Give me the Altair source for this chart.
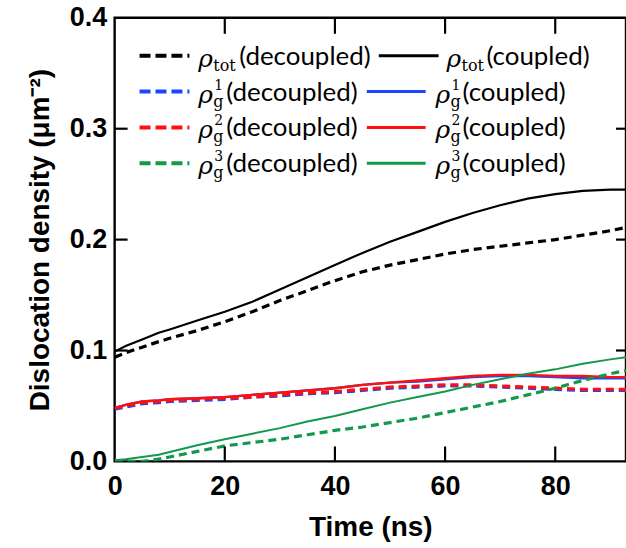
import altair as alt
import pandas as pd

# ---- data ----
time_ns = [0, 2, 5, 8, 10, 15, 20, 25, 30, 35, 40, 45, 50, 55, 60, 65, 70, 75, 80, 85, 90, 92.85]

tot_decoupled = [0.094, 0.098, 0.103, 0.108, 0.111, 0.118, 0.126, 0.135, 0.145, 0.154, 0.163, 0.171, 0.177, 0.182, 0.187, 0.191, 0.194, 0.197, 0.200, 0.204, 0.208, 0.211]
tot_coupled = [0.099, 0.104, 0.110, 0.116, 0.119, 0.127, 0.135, 0.144, 0.155, 0.166, 0.177, 0.188, 0.198, 0.207, 0.216, 0.224, 0.231, 0.237, 0.241, 0.244, 0.245, 0.245]
g1_decoupled = [0.047, 0.049, 0.052, 0.053, 0.054, 0.055, 0.056, 0.058, 0.059, 0.061, 0.062, 0.064, 0.066, 0.067, 0.068, 0.068, 0.067, 0.066, 0.065, 0.064, 0.064, 0.064]
g1_coupled = [0.048, 0.051, 0.054, 0.055, 0.056, 0.057, 0.058, 0.060, 0.062, 0.064, 0.066, 0.069, 0.071, 0.072, 0.074, 0.076, 0.077, 0.077, 0.076, 0.075, 0.075, 0.075]
g2_decoupled = [0.048, 0.050, 0.053, 0.054, 0.055, 0.056, 0.057, 0.058, 0.060, 0.062, 0.063, 0.065, 0.067, 0.068, 0.069, 0.069, 0.068, 0.067, 0.066, 0.065, 0.065, 0.065]
g2_coupled = [0.048, 0.051, 0.054, 0.055, 0.056, 0.057, 0.058, 0.060, 0.062, 0.064, 0.066, 0.069, 0.071, 0.073, 0.075, 0.077, 0.078, 0.078, 0.077, 0.077, 0.076, 0.076]
g3_decoupled = [0.000, 0.000, 0.000, 0.002, 0.004, 0.009, 0.014, 0.017, 0.020, 0.024, 0.028, 0.031, 0.035, 0.039, 0.044, 0.049, 0.054, 0.060, 0.066, 0.073, 0.079, 0.082]
g3_coupled = [0.001, 0.002, 0.004, 0.006, 0.0085, 0.0145, 0.020, 0.025, 0.030, 0.036, 0.041, 0.047, 0.053, 0.058, 0.063, 0.069, 0.074, 0.079, 0.083, 0.088, 0.092, 0.094]

x_ticks = [0, 20, 40, 60, 80]
y_ticks = [0.0, 0.1, 0.2, 0.3, 0.4]
x_inner_ticks = [20, 40, 60, 80]
y_inner_ticks = [0.1, 0.2, 0.3]

# ---- styling ----
W, H = 513, 445
BLACK, BLUE, RED, GREEN = "#000000", "#1a46ff", "#ff1010", "#12994a"
FONT = "Liberation Sans"

series = [
    ("tot_decoupled", tot_decoupled, BLACK, True, 3.2),
    ("tot_coupled", tot_coupled, BLACK, False, 2.2),
    ("g1_decoupled", g1_decoupled, BLUE, True, 3.2),
    ("g1_coupled", g1_coupled, BLUE, False, 2.4),
    ("g2_decoupled", g2_decoupled, RED, True, 3.2),
    ("g2_coupled", g2_coupled, RED, False, 2.4),
    ("g3_decoupled", g3_decoupled, GREEN, True, 3.2),
    ("g3_coupled", g3_coupled, GREEN, False, 2.0),
]

xs = alt.Scale(domain=[0, 92.85], nice=False, zero=False)
ys = alt.Scale(domain=[0, 0.4], nice=False)

ax_x = alt.Axis(values=x_ticks, format="d", ticks=False, domain=False, grid=False,
                labelFont=FONT, labelFontWeight="bold", labelFontSize=27, labelColor="black",
                labelPadding=12, labelFlush=False,
                titleFont=FONT, titleFontWeight="bold", titleFontSize=28, titleColor="black",
                titlePadding=14)
ax_y = alt.Axis(values=y_ticks, format=".1f", ticks=False, domain=False, grid=False,
                labelFont=FONT, labelFontWeight="bold", labelFontSize=27, labelColor="black",
                labelPadding=8, labelFlush=False,
                titleFont=FONT, titleFontWeight="bold", titleFontSize=28, titleColor="black",
                titlePadding=15)

layers = []
for i, (name, vals, color, dashed, sw) in enumerate(series):
    df = pd.DataFrame({"t": time_ns, "v": vals})
    mk = dict(color=color, strokeWidth=sw, clip=True)
    if dashed:
        mk["strokeDash"] = [8, 5]
    if i == 0:
        xa = alt.X("t:Q", scale=xs, axis=ax_x, title="Time (ns)")
        ya = alt.Y("v:Q", scale=ys, axis=ax_y, title="Dislocation density (μm⁻²)")
    else:
        xa = alt.X("t:Q", scale=xs, axis=None)
        ya = alt.Y("v:Q", scale=ys, axis=None)
    layers.append(alt.Chart(df).mark_line(**mk).encode(x=xa, y=ya))

# ---- inward tick marks on all four sides (at the axis tick values) ----
xt_df = pd.DataFrame({"t": x_inner_ticks, "y0": [0] * 4, "y1": [16] * 4, "y2b": [H - 15] * 4, "y3b": [H] * 4})
yt_df = pd.DataFrame({"v": y_inner_ticks, "x0": [0] * 3, "x1": [13] * 3, "x2r": [W - 10] * 3, "x3r": [W] * 3})
tick_style = dict(color="black", strokeWidth=2.2)
tx = alt.X("t:Q", scale=xs, axis=None)
ty = alt.Y("v:Q", scale=ys, axis=None)
tick_top = alt.Chart(xt_df).mark_rule(**tick_style).encode(
    x=tx, y=alt.Y("y0:Q", scale=None, axis=None), y2="y1:Q")
tick_bot = alt.Chart(xt_df).mark_rule(**tick_style).encode(
    x=tx, y=alt.Y("y2b:Q", scale=None, axis=None), y2="y3b:Q")
tick_left = alt.Chart(yt_df).mark_rule(**tick_style).encode(
    y=ty, x=alt.X("x0:Q", scale=None, axis=None), x2="x1:Q")
tick_right = alt.Chart(yt_df).mark_rule(**tick_style).encode(
    y=ty, x=alt.X("x2r:Q", scale=None, axis=None), x2="x3r:Q")

# ---- hand-built legend (pixel layout inside the plot area) ----
row_y = [38, 74, 110, 146]
leg_colors = [BLACK, BLUE, RED, GREEN]
subs = ["tot", "g", "g", "g"]
sups = ["", "1", "2", "3"]
c1_line = [(25, 75)] * 4
c1_rho = [84] * 4
c1_sub = [99] * 4
c1_txt = [125, 112, 112, 112]
c2_line = [(265, 325), (253, 312), (253, 312), (253, 312)]
c2_rho = [333, 322, 322, 322]
c2_sub = [348, 337, 337, 337]
c2_txt = [373, 349, 349, 349]

lines_df = pd.DataFrame({
    "x": [a for a, b in c1_line] + [a for a, b in c2_line],
    "x2": [b for a, b in c1_line] + [b for a, b in c2_line],
    "y": row_y + row_y,
    "c": leg_colors + leg_colors,
    "dashed": [True] * 4 + [False] * 4,
})
rho_df = pd.DataFrame({"x": c1_rho + c2_rho, "y": row_y + row_y, "s": ["ρ"] * 8})
sub_df = pd.DataFrame({"x": c1_sub + c2_sub, "y": row_y + row_y, "s": subs + subs})
sup_df = pd.DataFrame({"x": [v + 1 for v in c1_sub + c2_sub], "y": row_y + row_y, "s": sups + sups})
txt_df = pd.DataFrame({"x": c1_txt + c2_txt, "y": row_y + row_y,
                       "s": ["(decoupled)"] * 4 + ["(coupled)"] * 4})

px = lambda f: alt.X(f, scale=None, axis=None)
py = lambda f: alt.Y(f, scale=None, axis=None)

leg_dash = alt.Chart(lines_df[lines_df.dashed]).mark_rule(strokeWidth=4, strokeDash=[11, 5]).encode(
    x=px("x:Q"), x2="x2:Q", y=py("y:Q"), color=alt.Color("c:N", scale=None))
leg_solid = alt.Chart(lines_df[~lines_df.dashed]).mark_rule(strokeWidth=3).encode(
    x=px("x:Q"), x2="x2:Q", y=py("y:Q"), color=alt.Color("c:N", scale=None))
leg_rho = alt.Chart(rho_df).mark_text(font="DejaVu Serif", fontStyle="italic", fontSize=25,
                                      align="left", baseline="middle", color="black", dy=3).encode(
    x=px("x:Q"), y=py("y:Q"), text="s:N")
leg_sub = alt.Chart(sub_df).mark_text(font="DejaVu Serif", fontSize=16, align="left",
                                      baseline="middle", color="black", dy=10).encode(
    x=px("x:Q"), y=py("y:Q"), text="s:N")
leg_sup = alt.Chart(sup_df).mark_text(font="DejaVu Serif", fontSize=14, align="left",
                                      baseline="middle", color="black", dy=-6).encode(
    x=px("x:Q"), y=py("y:Q"), text="s:N")
leg_txt = alt.Chart(txt_df).mark_text(font="Lato", fontSize=26, align="left",
                                      baseline="middle", color="black", dy=1).encode(
    x=px("x:Q"), y=py("y:Q"), text="s:N")

chart = alt.layer(
    *layers, tick_top, tick_bot, tick_left, tick_right,
    leg_dash, leg_solid, leg_rho, leg_sub, leg_sup, leg_txt
).resolve_axis(
    x="independent", y="independent"
).properties(
    width=W, height=H,
    autosize=alt.AutoSizeParams(type="none"),
    padding={"left": 115, "top": 17, "right": 0, "bottom": 86},
    background="white",
).configure_view(stroke="black", strokeWidth=2.4)

chart.save("out.html", embed_options={"renderer": "svg", "actions": False})
